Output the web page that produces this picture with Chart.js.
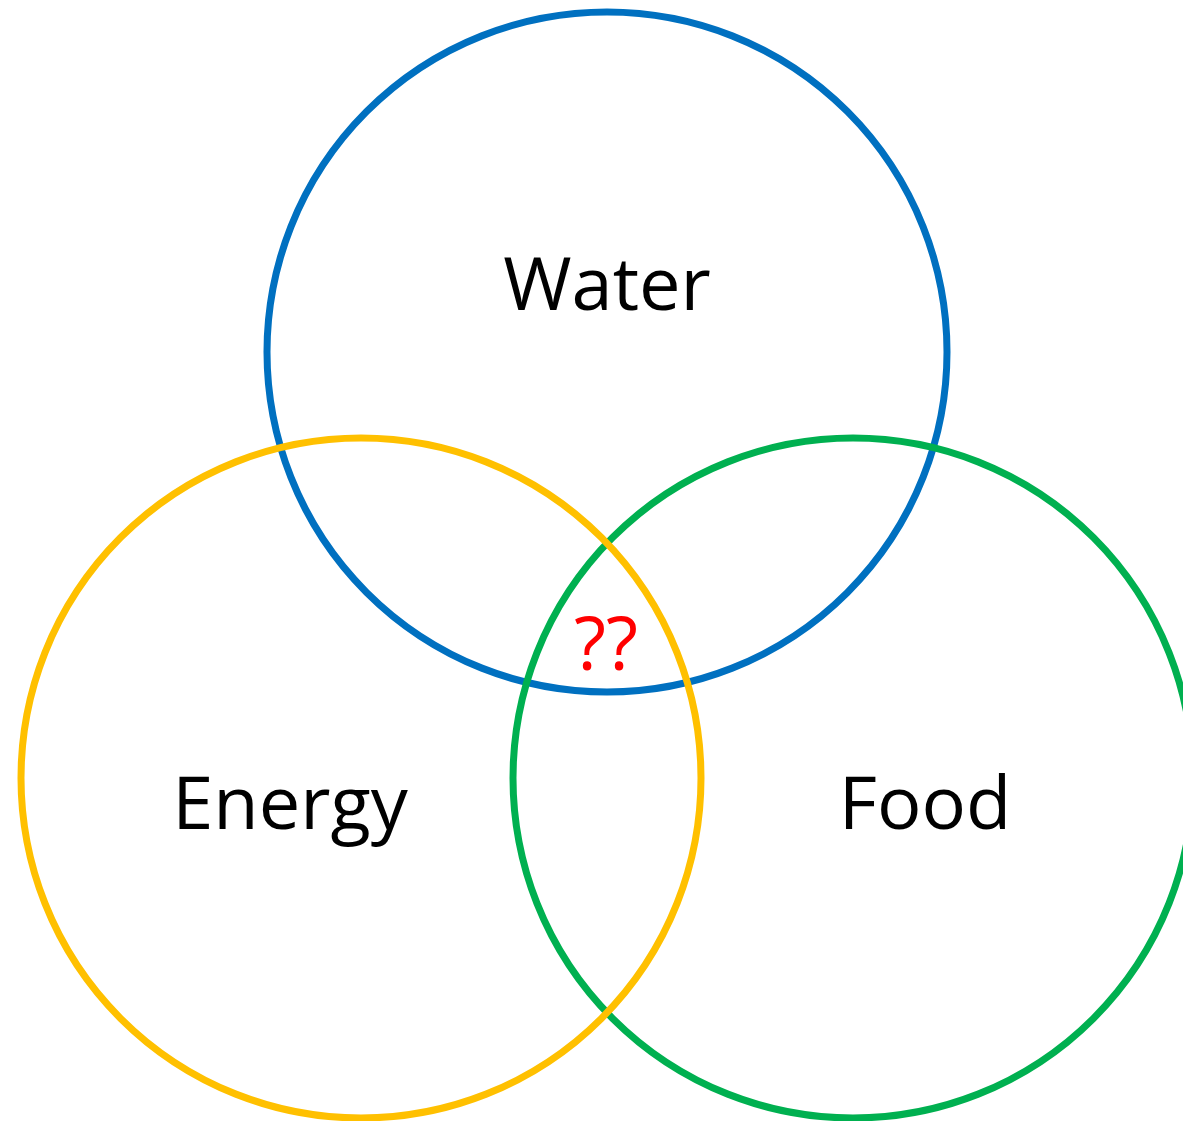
<!DOCTYPE html>
<html lang="en">
<head>
  <meta charset="UTF-8" />
  <title>Water, Energy, Food</title>
  <script src="https://cdn.jsdelivr.net/npm/chart.js"></script>
  <style>
    html, body { margin: 0; padding: 0; background: #ffffff; }
    #venn { display: block; }
  </style>
</head>
<body>
  <canvas id="venn" width="1183" height="1121"></canvas>
  <script>
    // Circles of the diagram (drawing order: later ones on top)
    const setNames   = ['Water', 'Food', 'Energy'];
    const centerX    = [607, 853, 361];
    const centerY    = [352, 778, 778];
    const radius     = [340, 340, 340];
    const ringColors = ['#0070C0', '#00B050', '#FFC000'];

    // Label positions (same units as the circles)
    const labelX = [607, 925, 290];
    const labelY = [310, 829, 829];
    const middleLabel = '??';
    const middleX = 606;
    const middleY = 670;

    // Text drawn on top of the rings, placed through the scales
    const labelPlugin = {
      id: 'vennLabels',
      afterDatasetsDraw(chart) {
        const { ctx, scales: { x, y } } = chart;
        ctx.save();
        ctx.font = '74px "Open Sans", sans-serif';
        ctx.textAlign = 'center';
        ctx.textBaseline = 'alphabetic';
        ctx.fillStyle = '#000000';
        setNames.forEach((name, i) => {
          ctx.fillText(name, x.getPixelForValue(labelX[i]), y.getPixelForValue(labelY[i]));
        });
        ctx.fillStyle = '#FF0000';
        ctx.fillText(middleLabel, x.getPixelForValue(middleX), y.getPixelForValue(middleY));
        ctx.restore();
      }
    };

    new Chart(document.getElementById('venn'), {
      type: 'bubble',
      data: {
        labels: setNames,
        datasets: [{
          data: setNames.map((n, i) => ({ x: centerX[i], y: centerY[i], r: radius[i] })),
          borderColor: ringColors,
          backgroundColor: 'rgba(0,0,0,0)',
          borderWidth: 7,
          clip: false
        }]
      },
      options: {
        responsive: false,
        animation: false,
        events: [],
        layout: { padding: 0, autoPadding: false },
        plugins: { legend: { display: false }, tooltip: { enabled: false } },
        scales: {
          x: { type: 'linear', min: 0, max: 1183, display: false },
          y: { type: 'linear', min: 0, max: 1121, reverse: true, display: false }
        }
      },
      plugins: [labelPlugin]
    });
  </script>
</body>
</html>
